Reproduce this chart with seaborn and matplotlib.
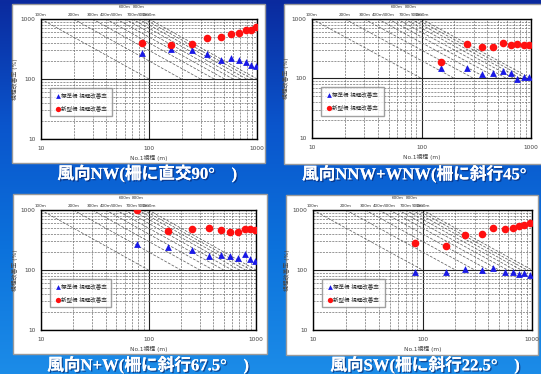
import numpy as np
import matplotlib
matplotlib.use("Agg")
import matplotlib.pyplot as plt
import matplotlib.patheffects as pe
from matplotlib.patches import Rectangle
from matplotlib.ticker import LogLocator, NullFormatter, FixedLocator, FixedFormatter
import seaborn as sns

sns.set_theme(style="white")
plt.rcParams['font.family'] = ['DejaVu Sans', 'Noto Sans CJK JP']

# ---- data ----
titles = ["風向NW(柵に直交90°\u3000)", "風向NNW+WNW(柵に斜行45°\u3000)",
          "風向N+W(柵に斜行67.5°\u3000)", "風向SW(柵に斜行22.5°\u3000)"]

nw_x = [87, 161, 250, 344, 461, 578, 676, 791, 880, 986]
nw_std = [268, 317, 301, 259, 208, 228, 206, 190, 170, 163]
nw_new = [394, 370, 389, 490, 496, 570, 578, 666, 666, 747]

nnw_x = [151, 259, 358, 452, 558, 656, 750, 857, 952]
nnw_std = [153, 149, 120, 126, 136, 126, 98, 105, 105]
nnw_new = [193, 376, 335, 340, 391, 362, 376, 366, 366]

nw2_x = [79, 153, 253, 365, 473, 578, 676, 791, 886, 986]
nw2_std = [276, 243, 214, 172, 181, 172, 159, 183, 155, 140]
nw2_new = [1000, 445, 474, 506, 467, 422, 422, 481, 481, 462]

sw_x = [85, 164, 242, 348, 442, 566, 665, 766, 851, 952]
sw_std = [94, 94, 103, 99, 107, 93, 93, 86, 88, 83]
sw_new = [278, 255, 388, 403, 495, 482, 495, 541, 570, 600]

# reference visibility lines (m)
ref_vis = [100, 200, 300, 400, 500, 600, 700, 800, 900, 1000]
raised = [600, 800]

std_label = "標準柵 視程改善率"
new_label = "新型柵 視程改善率"

W, H = 541, 374
fig = plt.figure(figsize=(W / 100, H / 100), dpi=100)

# blue gradient background (dark at top) + white panel frames
bg = fig.add_axes([0, 0, 1, 1])
bg.set_zorder(-10)
grad = np.linspace(0, 1, 256)[:, None]
cmap = matplotlib.colors.LinearSegmentedColormap.from_list(
    "bg", ["#0b2a9e", "#0a55cc", "#0c72dc", "#1c8ce8"])
bg.imshow(grad, aspect="auto", cmap=cmap, extent=[0, W, H, 0])
bg.set_xlim(0, W)
bg.set_ylim(H, 0)
bg.set_axis_off()


def px_rect(l, t, r, b):
    return [l / W, 1 - b / H, (r - l) / W, (b - t) / H]


panels = [
    dict(frame=(12, 4, 265, 163), ax=(41, 19, 257, 139), cap=(147, 174, "center"),
         x=nw_x, std=nw_std, new=nw_new),
    dict(frame=(284, 4, 545, 164), ax=(312, 19, 531, 138), cap=(302, 174, "left"),
         x=nnw_x, std=nnw_std, new=nnw_new),
    dict(frame=(13, 194, 267, 354), ax=(41, 210, 256, 330), cap=(148, 365, "center"),
         x=nw2_x, std=nw2_std, new=nw2_new),
    dict(frame=(286, 195, 538, 355), ax=(313, 210, 532, 330), cap=(425, 365, "center"),
         x=sw_x, std=sw_std, new=sw_new),
]

for p, title in zip(panels, titles):
    l, t, r, b = p["frame"]
    bg.add_patch(Rectangle((l, t), r - l, b - t, facecolor="white",
                           edgecolor="#9a9a9a", linewidth=1.0))
    ax = fig.add_axes(px_rect(*p["ax"]))
    ax.set_xscale("log")
    ax.set_yscale("log")
    ax.set_xlim(10, 1000)
    ax.set_ylim(10, 1000)

    # grid
    ax.xaxis.set_minor_locator(LogLocator(base=10, subs=np.arange(2, 10)))
    ax.yaxis.set_minor_locator(LogLocator(base=10, subs=np.arange(2, 10)))
    ax.xaxis.set_minor_formatter(NullFormatter())
    ax.yaxis.set_minor_formatter(NullFormatter())
    ax.grid(True, which="major", color="#222222", linewidth=0.8, linestyle="-")
    ax.grid(True, which="minor", color="#707070", linewidth=0.5, linestyle=(0, (3, 1.5)))
    ax.set_axisbelow(True)

    # reference visibility lines
    for v in ref_vis:
        ax.plot([v / 10, v], [1000, 100], color="#555555", linewidth=0.5,
                linestyle=(0, (4, 2)), zorder=1)
        dy = 7 if v in raised else 1.2
        ax.annotate(f"{v}m", xy=(v / 10, 1000), xytext=(0, dy), textcoords="offset points",
                    ha="center", va="bottom", fontsize=3.0, color="#333333",
                    annotation_clip=False)

    sns.scatterplot(x=p["x"], y=p["std"], marker="^", color="#1a1ae6", s=24,
                    linewidth=0, label=std_label, ax=ax, zorder=3)
    sns.scatterplot(x=p["x"], y=p["new"], marker="o", color="#ff1010", s=30,
                    linewidth=0, label=new_label, ax=ax, zorder=3)

    ax.xaxis.set_major_locator(FixedLocator([10, 100, 1000]))
    ax.xaxis.set_major_formatter(FixedFormatter(["10", "100", "1000"]))
    ax.yaxis.set_major_locator(FixedLocator([10, 100, 1000]))
    ax.yaxis.set_major_formatter(FixedFormatter(["10", "100", "1000"]))
    ax.tick_params(which="both", length=0, labelsize=4.2, labelcolor="#444444")
    ax.tick_params(axis="y", pad=4)
    ax.tick_params(axis="x", pad=5)
    for s in ax.spines.values():
        s.set_color("black")
        s.set_linewidth(1.0)
    ax.set_xlabel("No.1視程 (m)", fontsize=4.2, color="#444444", labelpad=3)
    ax.set_ylabel("視程改善率 (%)", fontsize=4.2, color="#444444", labelpad=2)

    h, lab = ax.get_legend_handles_labels()
    leg = ax.legend(h, lab, loc="lower left", bbox_to_anchor=(0.03, 0.165, 0.31, 0.18),
                    mode="expand", fontsize=4.0, frameon=True, fancybox=False,
                    borderpad=0.9, labelspacing=1.3, handletextpad=0.1,
                    handlelength=1.0, markerscale=0.7)
    leg.get_frame().set_edgecolor("#888888")
    leg.get_frame().set_linewidth(1.0)

    cx, cy, ha = p["cap"]
    fig.text(cx / W, 1 - cy / H, title, ha=ha, va="center", color="white",
             fontsize=12, fontweight="bold",
             family=["Liberation Serif", "Noto Sans CJK JP"],
             path_effects=[pe.withSimplePatchShadow(offset=(1, -1), shadow_rgbFace="#0a1f60",
                                                     alpha=0.6), pe.Normal()])

fig.savefig("out.png", dpi=100)
